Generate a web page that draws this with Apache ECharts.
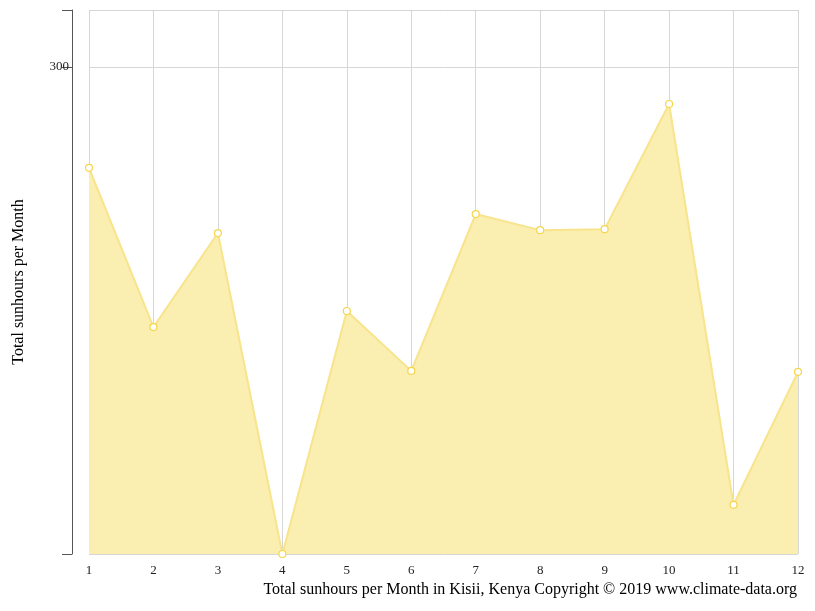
<!DOCTYPE html>
<html>
<head><meta charset="UTF-8"><title>Sunhours Kisii</title></head>
<body style="margin:0;background:#fff;">
<div id="main" style="width:815px;height:611px;"></div>
<script src="https://cdn.jsdelivr.net/npm/echarts@6/dist/echarts.min.js"></script>
<script>
var months = ['1','2','3','4','5','6','7','8','9','10','11','12'];
var sunhours = [279.3, 246.6, 265.9, 200, 249.9, 237.6, 269.8, 266.5, 266.7, 292.4, 210.1, 237.4];

var chart = echarts.init(document.getElementById('main'));
chart.setOption({
  textStyle: { fontFamily: 'Liberation Serif' },
  title: {
    text: 'Total sunhours per Month in Kisii, Kenya Copyright © 2019 www.climate-data.org',
    right: 13, bottom: 8,
    textStyle: { fontFamily: 'Liberation Serif', fontSize: 16, fontWeight: 'normal', color: '#000' }
  },
  grid: { left: 89, right: 17, top: 10, bottom: 57 },
  xAxis: {
    type: 'category', data: months, boundaryGap: false,
    axisLine: { show: false }, axisTick: { show: false },
    axisLabel: { color: '#222', fontSize: 13, margin: 10 },
    splitLine: { show: true, lineStyle: { color: '#d6d6d6' } }
  },
  yAxis: {
    type: 'value', min: 200, max: 311.7, interval: 100, offset: 17,
    name: 'Total sunhours per Month', nameLocation: 'middle', nameGap: 45,
    nameTextStyle: { fontFamily: 'Liberation Serif', fontSize: 16, color: '#000' },
    axisLine: { show: true, lineStyle: { color: '#555' } },
    axisTick: { show: true, length: 10, lineStyle: { color: '#555' } },
    axisLabel: { color: '#222', fontSize: 13, margin: 3,
      formatter: function (v) { return v === 300 ? '300' : ''; } },
    splitLine: { lineStyle: { color: '#d6d6d6' } }
  },
  series: [{
    type: 'line', data: sunhours,
    symbol: 'circle', symbolSize: 7,
    itemStyle: { color: '#fff', borderColor: '#f5d64a', borderWidth: 1.2 },
    lineStyle: { color: '#f8e48c', width: 2 },
    areaStyle: { color: '#faeeb0', opacity: 1 }
  }]
});
</script>
</body>
</html>
